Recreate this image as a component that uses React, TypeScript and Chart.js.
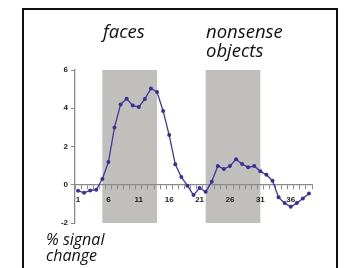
import React, { useEffect, useRef } from "react";
import { Chart, registerables } from "chart.js";

Chart.register(...registerables);

const timepoints = [
  "1", "2", "3", "4", "5", "6", "7", "8", "9", "10",
  "11", "12", "13", "14", "15", "16", "17", "18", "19", "20",
  "21", "22", "23", "24", "25", "26", "27", "28", "29", "30",
  "31", "32", "33", "34", "35", "36", "37", "38", "39",
];

const signalChange = [
  -0.31, -0.42, -0.3, -0.26, 0.3, 1.19, 3.0, 4.2, 4.5, 4.14,
  4.07, 4.49, 5.03, 4.85, 3.86, 2.6, 1.07, 0.4, -0.05, -0.54,
  -0.17, -0.37, 0.16, 0.98, 0.82, 0.98, 1.33, 1.08, 0.91, 0.98,
  0.7, 0.52, 0.21, -0.66, -0.96, -1.15, -0.96, -0.72, -0.46,
];

const shownTickLabels = ["1", "6", "11", "16", "21", "26", "31", "36"];

const blockStarts = ["5", "22"];
const blockEnds = ["14", "31"];

const yMin = -2;
const yMax = 6;
const yStep = 2;

const blocksPlugin = {
  id: "blocks",
  beforeDraw(chart: any) {
    const { ctx, scales } = chart;
    const x = scales.x;
    const y = scales.y;
    ctx.save();
    ctx.fillStyle = "#c0bfbc";
    const top = y.getPixelForValue(yMax);
    const bottom = y.getPixelForValue(yMin);
    for (let i = 0; i < blockStarts.length; i++) {
      const x1 = x.getPixelForValue(timepoints.indexOf(blockStarts[i]));
      const x2 = x.getPixelForValue(timepoints.indexOf(blockEnds[i]));
      ctx.fillRect(x1, top, x2 - x1, bottom - top);
    }
    ctx.restore();
  },
};

export default function App() {
  const ref = useRef<HTMLCanvasElement>(null);

  useEffect(() => {
    const chart = new Chart(ref.current!, {
      type: "line",
      data: {
        labels: timepoints,
        datasets: [
          {
            data: signalChange,
            borderColor: "#41379a",
            backgroundColor: "#3a3094",
            borderWidth: 1.3,
            pointRadius: 2,
            pointBorderWidth: 0,
            pointHoverRadius: 2,
            tension: 0,
          },
        ],
      },
      options: {
        animation: false,
        responsive: false,
        maintainAspectRatio: false,
        events: [],
        plugins: {
          legend: { display: false },
          tooltip: { enabled: false },
          title: { display: false },
        },
        layout: { padding: { left: 0, right: 33, top: 70, bottom: 45 } },
        scales: {
          x: {
            type: "category",
            offset: true,
            position: { y: 0 } as any,
            afterFit: (s: any) => {
              s.height = 0;
            },
            grid: {
              display: true,
              drawOnChartArea: false,
              offset: true,
              tickLength: 4,
              color: "#8a8a8a",
              lineWidth: 1,
            },
            border: { display: true, color: "#8a8a8a", width: 1.3 },
            ticks: {
              autoSkip: false,
              maxRotation: 0,
              minRotation: 0,
              padding: 6,
              color: "#1a1a1a",
              font: { family: "'Liberation Sans', Arial", size: 8, weight: "bold" },
              callback: (_v: any, i: number) =>
                shownTickLabels.includes(timepoints[i]) ? timepoints[i] : "",
            },
          },
          y: {
            type: "linear",
            min: yMin,
            max: yMax,
            afterFit: (s: any) => {
              s.width = 75;
            },
            grid: {
              display: true,
              drawOnChartArea: false,
              tickLength: 4,
              color: "#8a8a8a",
            },
            border: { display: true, color: "#8a8a8a", width: 1.3 },
            ticks: {
              stepSize: yStep,
              padding: 3,
              color: "#1a1a1a",
              font: { family: "'Liberation Sans', Arial", size: 8, weight: "bold" },
            },
          },
        },
      },
      plugins: [blocksPlugin],
    });
    return () => chart.destroy();
  }, []);

  const textStyle: React.CSSProperties = {
    position: "absolute",
    fontFamily: "'Open Sans', sans-serif",
    fontStyle: "italic",
    whiteSpace: "nowrap",
    color: "#111",
    margin: 0,
  };

  return (
    <div
      style={{
        position: "absolute",
        left: 0,
        top: 0,
        width: 345,
        height: 268,
        overflow: "hidden",
        background: "#fff",
      }}
    >
      <canvas
        ref={ref}
        width={345}
        height={268}
        style={{ position: "absolute", left: 0, top: 0, width: 345, height: 268 }}
      />
      <div
        style={{
          position: "absolute",
          left: 22,
          top: 8,
          width: 316,
          height: 300,
          boxSizing: "border-box",
          border: "2px solid #111",
          pointerEvents: "none",
        }}
      />
      <div style={{ ...textStyle, left: 103, top: 21, fontSize: 18.5, lineHeight: "20px" }}>faces</div>
      <div style={{ ...textStyle, left: 206, top: 21, fontSize: 18.5, lineHeight: "20px" }}>nonsense</div>
      <div style={{ ...textStyle, left: 206, top: 40, fontSize: 18.5, lineHeight: "20px" }}>objects</div>
      <div style={{ ...textStyle, left: 46, top: 230, fontSize: 16, lineHeight: "18px" }}>% signal</div>
      <div style={{ ...textStyle, left: 46, top: 246, fontSize: 16, lineHeight: "18px" }}>change</div>
    </div>
  );
}
